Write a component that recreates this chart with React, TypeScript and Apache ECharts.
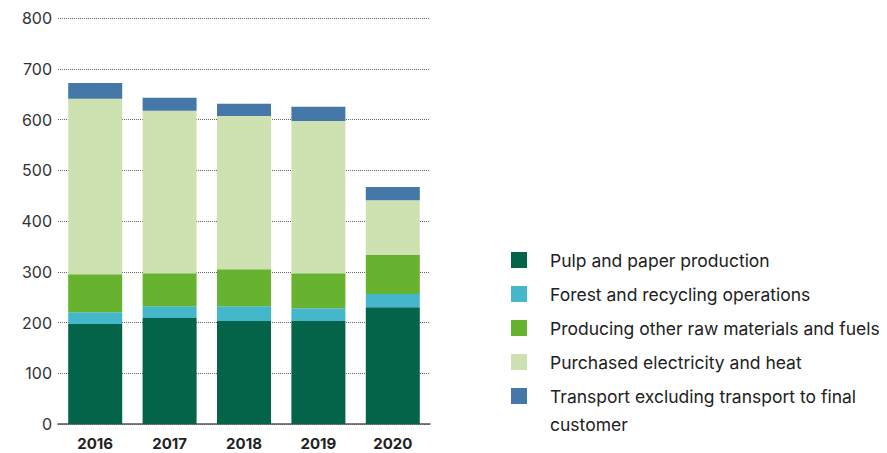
import React, { useEffect, useRef } from "react";
import * as echarts from "echarts";

const years = ["2016", "2017", "2018", "2019", "2020"];
const pulpPaper = [197, 209, 203, 203, 230];
const forestRecycling = [23, 23, 29, 25, 26];
const otherRawMaterials = [75, 65, 73, 69, 77];
const purchasedElectricity = [346, 320, 302, 300, 108];
const transport = [31, 26, 24, 28, 26];

const seriesNames = [
  "Pulp and paper production",
  "Forest and recycling operations",
  "Producing other raw materials and fuels",
  "Purchased electricity and heat",
  "Transport excluding transport to final customer",
];
const seriesColors = ["#03644A", "#44B8CA", "#67B22F", "#CDE2B0", "#4677A9"];
const seriesData = [pulpPaper, forestRecycling, otherRawMaterials, purchasedElectricity, transport];

export default function App() {
  const ref = useRef<HTMLDivElement>(null);
  useEffect(() => {
    if (!ref.current) return;
    const chart = echarts.init(ref.current, undefined, { renderer: "svg" });
    const legendText = {
      fontFamily: "Inter",
      fontSize: 17.5,
      color: "#222",
      lineHeight: 28,
      padding: [0, 0, 0, 18],
    };
    const legendBase = {
      orient: "vertical",
      left: 503,
      padding: 0,
      itemWidth: 16,
      itemHeight: 16,
      itemGap: 6,
      icon: "rect",
      selectedMode: false,
      textStyle: legendText,
    };
    chart.setOption({
      animation: false,
      textStyle: { fontFamily: "Inter" },
      grid: { left: 50, right: 457, top: 10, bottom: 29 },
      legend: [
        { ...legendBase, top: 238, data: seriesNames.slice(0, 4) },
        {
          ...legendBase,
          top: 346,
          data: seriesNames.slice(4),
          formatter: () => "\nTransport excluding transport to final\ncustomer",
        },
      ],
      xAxis: {
        type: "category",
        data: years,
        offset: 3,
        axisLine: { lineStyle: { color: "#555", width: 1.5 } },
        axisTick: { show: false },
        axisLabel: {
          fontFamily: "Inter",
          fontSize: 15,
          fontWeight: "bold",
          color: "#222",
          margin: 9,
        },
      },
      yAxis: {
        type: "value",
        min: 0,
        max: 800,
        interval: 100,
        axisLine: { show: false },
        axisTick: { show: false },
        axisLabel: { fontFamily: "Inter", fontSize: 16, color: "#333", margin: 6 },
        splitLine: { lineStyle: { color: "#666", type: [1, 1], width: 1 } },
      },
      series: seriesNames.map((name, i) => ({
        name,
        type: "bar",
        stack: "total",
        barWidth: 54,
        itemStyle: { color: seriesColors[i] },
        data: seriesData[i],
      })),
    });
    return () => chart.dispose();
  }, []);
  return <div ref={ref} style={{ width: 879, height: 445 }} />;
}
